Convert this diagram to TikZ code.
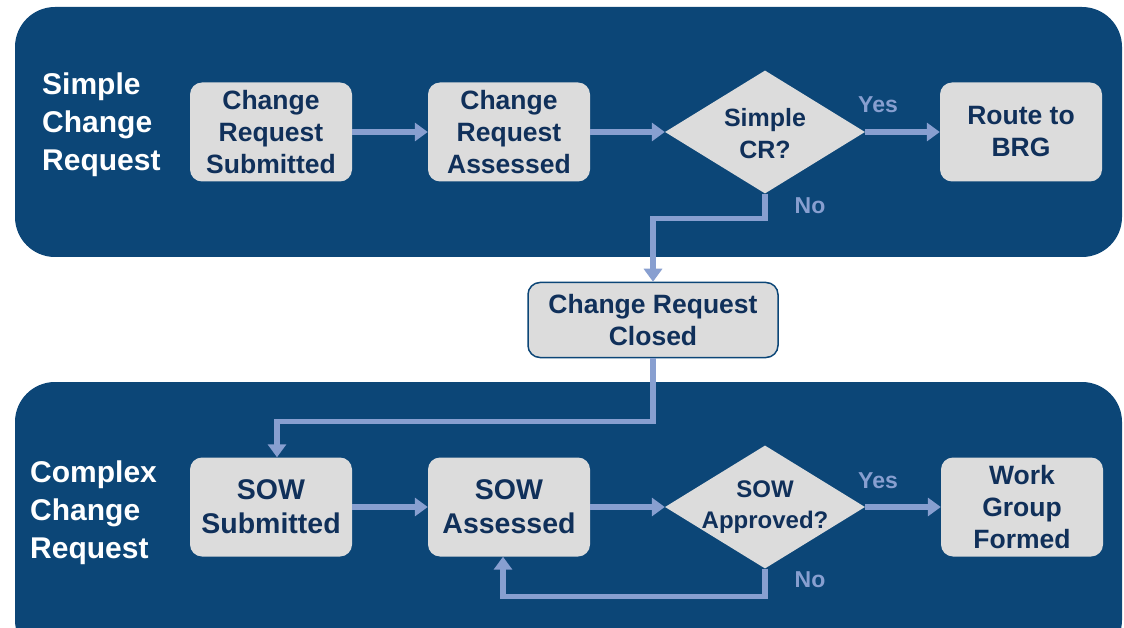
\documentclass[tikz,border=0pt]{standalone}
\usepackage{fontspec}
\setmainfont{Liberation Sans}
\usetikzlibrary{arrows.meta,shapes.geometric}
\definecolor{laneblue}{HTML}{0C4677}
\definecolor{boxgray}{HTML}{DCDCDC}
\definecolor{boxtext}{HTML}{10305A}
\definecolor{flowblue}{HTML}{889FD0}
\tikzset{
	box/.style = { font=\bfseries\fontsize{26.5}{32}\selectfont, fill=boxgray, text=boxtext, align=center,
		rounded corners=12pt, minimum width=162pt, minimum height=99pt, inner sep=0pt },
	bigbox/.style = { box, font=\bfseries\fontsize{28.5}{34}\selectfont },
	decision/.style = { diamond, fill=boxgray, minimum width=200pt, minimum height=123pt, inner sep=0pt },
	decisiontext/.style = { text=boxtext, align=center, font=\bfseries\fontsize{25}{32}\selectfont },
	closedbox/.style = { box, draw=laneblue, line width=1.5pt, minimum width=250pt, minimum height=75pt },
	arrow/.style = { line width=5.5pt, color=flowblue, -{Triangle[width=18pt,length=13pt]} },
	lane/.style = { fill=laneblue, rounded corners=40pt },
	lanetitle/.style = { text=white, align=left, anchor=west, inner sep=0pt, font=\bfseries\fontsize{30}{38}\selectfont },
	answer/.style = { text=flowblue, font=\bfseries\fontsize{23}{28}\selectfont },
}

\begin{document}
\begin{tikzpicture}[x=1pt,y=-1pt]
\useasboundingbox (0,0) rectangle (1124,628);
\clip (0,0) rectangle (1124,628);

% lanes
\fill[lane] (15,7) rectangle (1122,257);
\fill[lane] (15,382) rectangle (1122,660);
\node[lanetitle] (simple) at (42,125) {Simple\\Change\\Request};
\node[lanetitle] (complex) at (30,513) {Complex\\Change\\Request};

% simple change request
\node[box] (crsub) at (271,132) {Change\\Request\\Submitted};
\node[box] (crass) at (509,132) {Change\\Request\\Assessed};
\node[decision] (simplecr) at (765,132) {};
\node[decisiontext] (simplecrtext) at ([yshift=-2pt]simplecr) {Simple\\CR?};
\node[box] (brg) at (1021,132) {Route to\\BRG};

\node[closedbox] (closed) at (653,320) {Change Request\\Closed};

% complex change request
\node[bigbox] (sowsub) at (271,507) {SOW\\Submitted};
\node[bigbox] (sowass) at (509,507) {SOW\\Assessed};
\node[decision] (sowok) at (765,507) {};
\node[decisiontext, font=\bfseries\fontsize{24}{31}\selectfont] (sowoktext) at (sowok) {SOW\\Approved?};
\node[box] (wgroup) at (1022,507) {Work\\Group\\Formed};

\node[answer] (yes1) at (878,105) {Yes};
\node[answer] (no1) at (810,206) {No};
\node[answer] (yes2) at (878,481) {Yes};
\node[answer] (no2) at (810,580) {No};

\draw[arrow] (crsub) -- (crass);
\draw[arrow] (crass) -- (simplecr.west);
\draw[arrow] (simplecr.east) -- (brg);
\draw[arrow] (simplecr.south) -- ++(0,25) -| (closed.north);
\draw[arrow] (closed.south) -- ++(0,63) -| ([xshift=6pt]sowsub.north);
\draw[arrow] (sowsub) -- (sowass);
\draw[arrow] (sowass) -- (sowok.west);
\draw[arrow] (sowok.east) -- (wgroup);
\draw[arrow] (sowok.south) -- ++(0,28) -| ([xshift=-6pt]sowass.south);
\end{tikzpicture}
\end{document}
